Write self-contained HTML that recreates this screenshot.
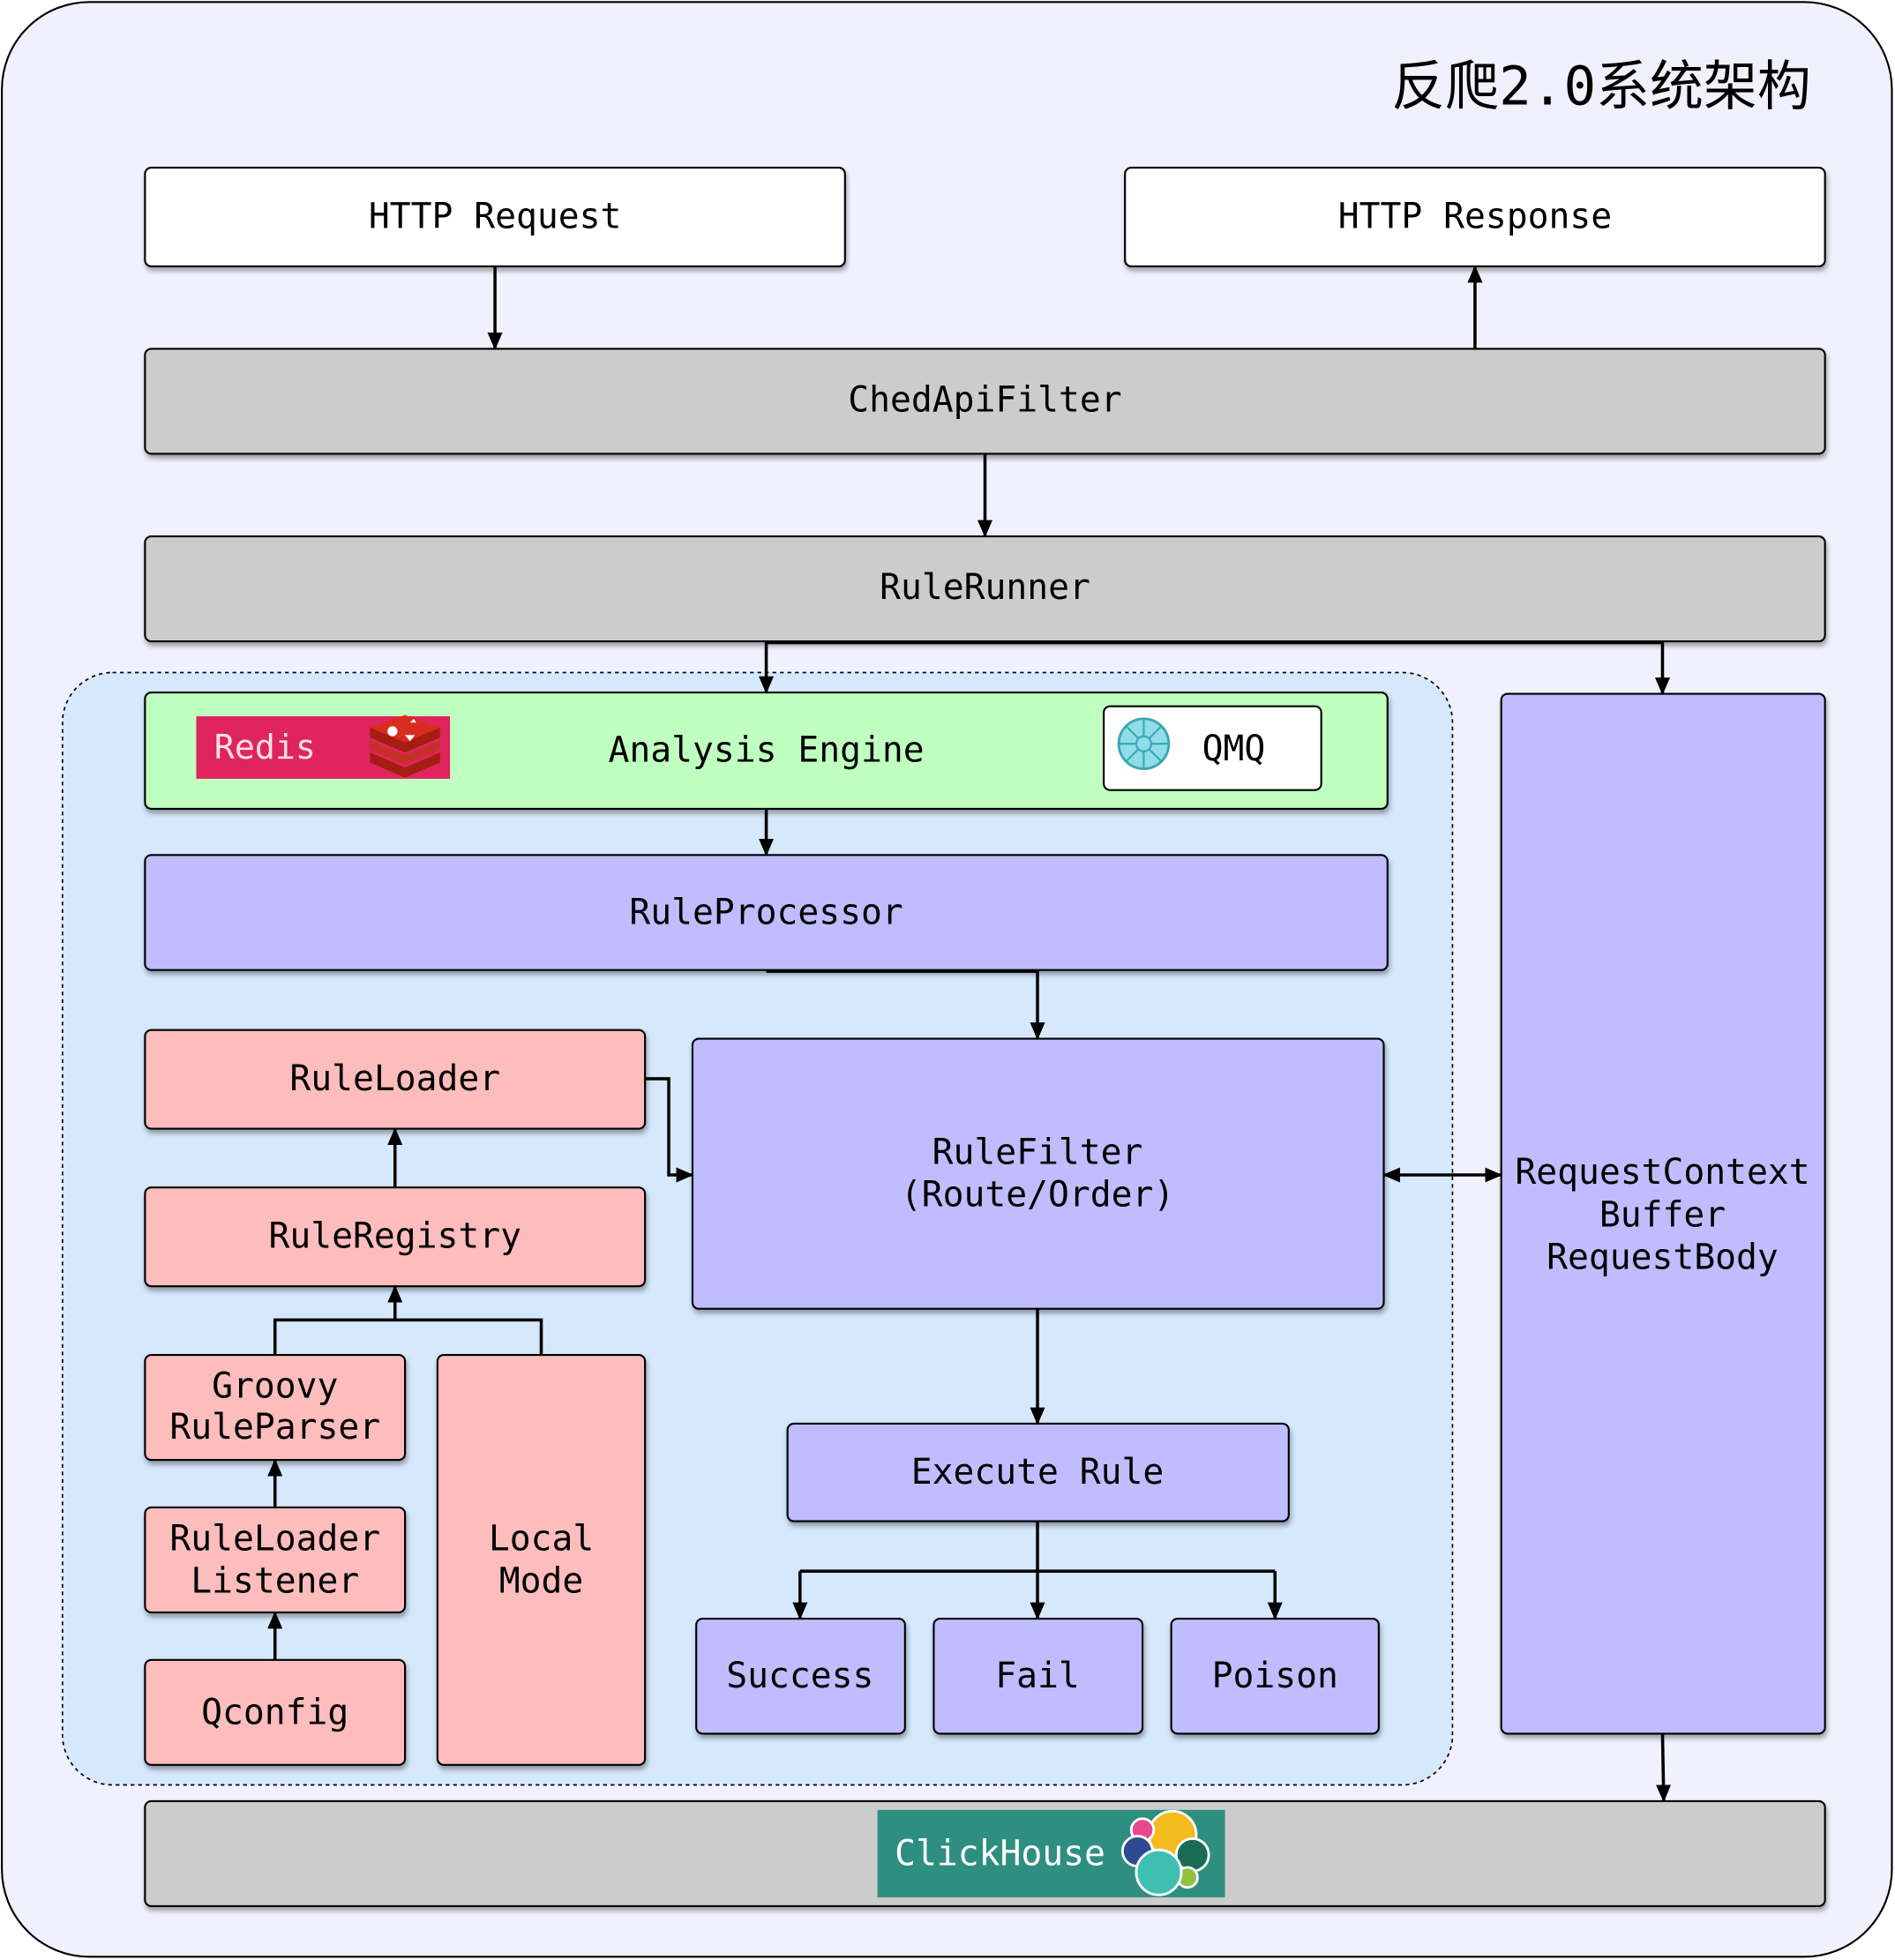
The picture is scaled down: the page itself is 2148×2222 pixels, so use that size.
<!DOCTYPE html>
<html><head><meta charset="utf-8"><style>
html,body{margin:0;padding:0;background:#fff;}
svg{display:block;}
text{font-family:"DejaVu Sans Mono","Liberation Mono","Noto Sans CJK SC",monospace;font-size:28px;fill:#000;text-anchor:middle;dominant-baseline:central;}
</style></head><body>
<svg width="2148" height="2222" viewBox="0 0 1516 1568" xmlns="http://www.w3.org/2000/svg">
<defs>
<filter id="sh" x="-5%" y="-5%" width="110%" height="120%"><feDropShadow dx="1" dy="3" stdDeviation="2" flood-color="#000" flood-opacity="0.35"/></filter>
<marker id="as" markerWidth="14" markerHeight="12" refX="13" refY="6" orient="auto-start-reverse" markerUnits="userSpaceOnUse"><path d="M0,0 L14,6 L0,12 Z" fill="#000"/></marker>
</defs>
<rect x="1.5" y="1.5" width="1512" height="1564" rx="70" fill="#f1f1fe" stroke="#000" stroke-width="1.5"/>
<text x="1281" y="69" style="font-size:43px;font-family:'DejaVu Sans Mono','Noto Sans CJK SC',monospace">反爬2.0系统架构</text>

<g stroke="#000" stroke-width="1.5" filter="url(#sh)">
<rect x="116" y="134" width="560" height="79" rx="5" fill="#fff"/>
<rect x="900" y="134" width="560" height="79" rx="5" fill="#fff"/>
<rect x="116" y="279" width="1344" height="84" rx="5" fill="#cccccc"/>
<rect x="116" y="429" width="1344" height="84" rx="5" fill="#cccccc"/>
</g>
<rect x="50" y="538" width="1112" height="890" rx="40" fill="#d5e8fc" stroke="#000" stroke-width="1.2" stroke-dasharray="3,3"/>
<g stroke="#000" stroke-width="1.5" filter="url(#sh)">
<rect x="116" y="554" width="994" height="93" rx="5" fill="#bfffc0"/>
<rect x="116" y="684" width="994" height="92" rx="5" fill="#bfbdfe"/>
<rect x="116" y="824" width="400" height="79" rx="5" fill="#fdbdbd"/>
<rect x="554" y="831" width="553" height="216" rx="5" fill="#bfbdfe"/>
<rect x="116" y="950" width="400" height="79" rx="5" fill="#fdbdbd"/>
<rect x="116" y="1084" width="208" height="84" rx="5" fill="#fdbdbd"/>
<rect x="350" y="1084" width="166" height="328" rx="5" fill="#fdbdbd"/>
<rect x="116" y="1206" width="208" height="84" rx="5" fill="#fdbdbd"/>
<rect x="116" y="1328" width="208" height="84" rx="5" fill="#fdbdbd"/>
<rect x="630" y="1139" width="401" height="78" rx="5" fill="#bfbdfe"/>
<rect x="557" y="1295" width="167" height="92" rx="5" fill="#bfbdfe"/>
<rect x="747" y="1295" width="167" height="92" rx="5" fill="#bfbdfe"/>
<rect x="937" y="1295" width="166" height="92" rx="5" fill="#bfbdfe"/>
<rect x="1201" y="555" width="259" height="832" rx="5" fill="#bfbdfe"/>
<rect x="116" y="1441" width="1344" height="84" rx="5" fill="#cccccc"/>
<rect x="883" y="565" width="174" height="67" rx="5" fill="#fff"/>
</g>

<rect x="157" y="573" width="203" height="50" fill="#e0245e"/>
<text x="212" y="598" style="fill:#fde0dc;font-size:27px">Redis</text>
<g transform="translate(324,598)">
<path d="M-28,12 L0,24 L28,12 L28,4 L0,16 L-28,4Z" fill="#a41e11"/>
<path d="M-28,2 L0,14 L28,2 L28,-6 L0,6 L-28,-6Z" fill="#c6302b"/>
<path d="M-28,-8 L0,4 L28,-8 L28,-16 L0,-4 L-28,-16Z" fill="#a41e11"/>
<path d="M-28,-16 L0,-4 L28,-16 L0,-26Z" fill="#d82c20"/>
<circle cx="-10" cy="-13" r="4" fill="#fff"/><path d="M4,-20 l3,-3 l2,3z" fill="#fff"/><path d="M0,-10 l8,0 l-4,5z" fill="#fff"/>
</g>
<circle cx="915" cy="595" r="20" fill="#8fdde6" stroke="#3aa6b5" stroke-width="2"/>
<circle cx="915" cy="595" r="6" fill="#8fdde6" stroke="#3aa6b5" stroke-width="1.5"/>
<path d="M915,575 V589 M915,601 V615 M895,595 H909 M921,595 H935 M901,581 L911,591 M929,581 L919,591 M901,609 L911,599 M929,609 L919,599" stroke="#3aa6b5" stroke-width="1.5"/>
<text x="987" y="599">QMQ</text>
<rect x="702" y="1448" width="278" height="70" fill="#2e8f80"/>
<text x="800" y="1483" style="fill:#fff;font-size:28px">ClickHouse</text>
<g stroke="#fff" stroke-width="2">
<circle cx="938" cy="1468" r="19" fill="#f2bc1f"/>
<circle cx="914" cy="1464" r="9" fill="#e8488e"/>
<circle cx="910" cy="1481" r="12" fill="#2e4a93"/>
<circle cx="954" cy="1484" r="13" fill="#1a6b55"/>
<circle cx="950" cy="1502" r="8" fill="#93c13e"/>
<circle cx="927" cy="1498" r="18" fill="#3fbfb2"/>
</g>

<g>
<text x="396" y="173">HTTP Request</text>
<text x="1180" y="173">HTTP Response</text>
<text x="788" y="320">ChedApiFilter</text>
<text x="788" y="470">RuleRunner</text>
<text x="613" y="600">Analysis Engine</text>
<text x="613" y="730">RuleProcessor</text>
<text x="316" y="863">RuleLoader</text>
<text x="830" y="922">RuleFilter</text>
<text x="830" y="956">(Route/Order)</text>
<text x="316" y="989">RuleRegistry</text>
<text x="220" y="1109">Groovy</text>
<text x="220" y="1142">RuleParser</text>
<text x="433" y="1231">Local</text>
<text x="433" y="1265">Mode</text>
<text x="220" y="1231">RuleLoader</text>
<text x="220" y="1265">Listener</text>
<text x="220" y="1370">Qconfig</text>
<text x="830" y="1178">Execute Rule</text>
<text x="640" y="1341">Success</text>
<text x="830" y="1341">Fail</text>
<text x="1020" y="1341">Poison</text>
<text x="1330" y="938">RequestContext</text>
<text x="1330" y="972">Buffer</text>
<text x="1330" y="1006">RequestBody</text>
</g>

<g stroke="#000" stroke-width="2.5" fill="none" marker-end="url(#as)">
<path d="M396,213 L396,279"/>
<path d="M1180,279 L1180,213"/>
<path d="M788,363 L788,429"/>
<path d="M613,513 L613,554"/>
<path d="M1330,513 L1330,555"/>
<path d="M613,647 L613,684"/>
<path d="M613,777 L830,777 L830,831"/>
<path d="M516,863 L535,863 L535,940 L554,940"/>
<path d="M1107,940 L1201,940" marker-start="url(#as)"/>
<path d="M316,950 L316,903"/>
<path d="M316,1056 L316,1029"/>
<path d="M220,1206 L220,1168"/>
<path d="M220,1328 L220,1290"/>
<path d="M830,1047 L830,1139"/>
<path d="M830,1217 L830,1295"/>
<path d="M640,1257 L640,1295"/>
<path d="M1020,1257 L1020,1295"/>
<path d="M1330,1387 L1331,1441"/>
</g>
<g stroke="#000" stroke-width="2.5" fill="none">
<path d="M613,514 L1330,514"/>
<path d="M220,1084 L220,1056 L433,1056 L433,1084"/>
<path d="M640,1257 L1020,1257"/>
</g>
</svg>
</body></html>
